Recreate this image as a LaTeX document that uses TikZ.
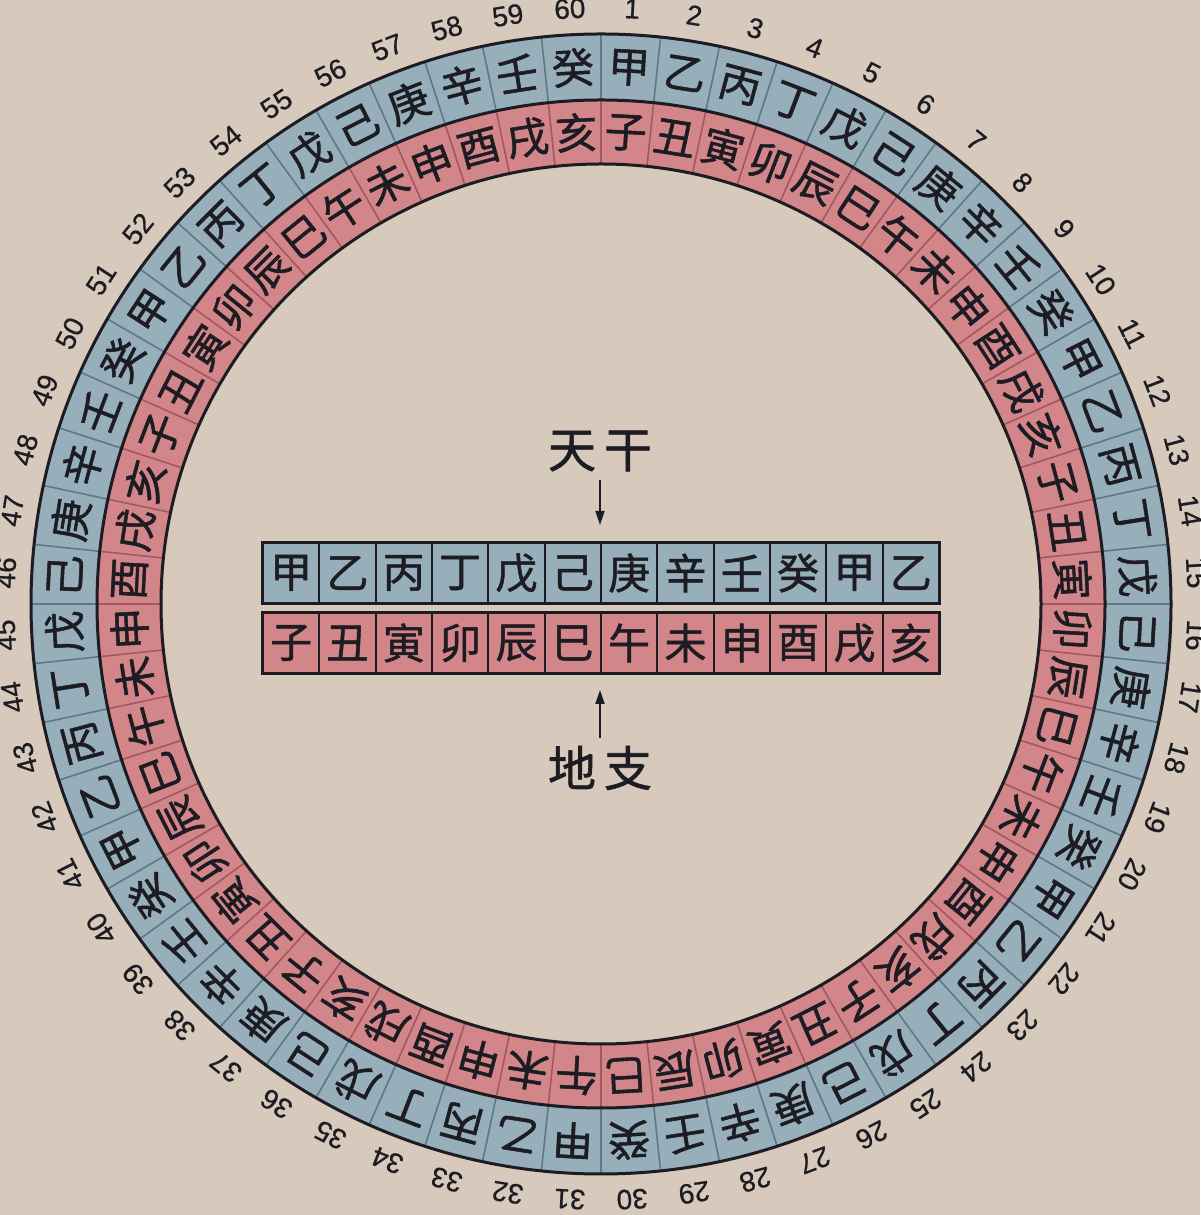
\documentclass[tikz,border=0pt]{standalone}
\usepackage{fontspec}
\setmainfont{Liberation Sans}
\newfontfamily\numfont[FakeBold=0.6]{Liberation Sans}
\newfontfamily\cjk[FakeBold=1.2]{Noto Sans CJK SC}
\usetikzlibrary{arrows.meta}
\definecolor{bg}{HTML}{D7C9BB}
\definecolor{ringblue}{HTML}{97AEBB}
\definecolor{ringred}{HTML}{D3868A}
\definecolor{ink}{HTML}{1C1C22}
\definecolor{bluediv}{HTML}{5E7886}
\definecolor{reddiv}{HTML}{A2585E}
\newcommand\stemname[1]{\ifcase#1 甲\or 乙\or 丙\or 丁\or 戊\or 己\or 庚\or 辛\or 壬\or 癸\fi}
\newcommand\branchname[1]{\ifcase#1 子\or 丑\or 寅\or 卯\or 辰\or 巳\or 午\or 未\or 申\or 酉\or 戌\or 亥\fi}
\tikzset{
  ringchar/.style={font=\cjk\fontsize{21}{21}\selectfont, text=ink, inner sep=0pt},
  numlabel/.style={font=\numfont\fontsize{14}{14}\selectfont, text=ink, inner sep=0pt},
  cellbox/.style={draw=ink, line width=1pt, minimum width=28.17pt, minimum height=30pt,
    inner sep=0pt, font=\cjk\fontsize{21}{21}\selectfont, text=ink},
  stemcell/.style={cellbox, fill=ringblue},
  branchcell/.style={cellbox, fill=ringred},
  title/.style={font=\cjk\fontsize{24}{24}\selectfont, text=ink, inner sep=0pt},
  arr/.style={-{Triangle[length=7pt,width=4.5pt]}, line width=0.9pt, draw=ink},
  ringline/.style={draw=ink, line width=1.5pt}
}
\begin{document}
\begin{tikzpicture}[x=0.5pt,y=0.5pt]
\useasboundingbox (0,0) rectangle (1200,1215);
\fill[bg] (0,0) rectangle (1200,1215);
% rings
\begin{scope}[shift={(601,611)}]
  \fill[ringblue, even odd rule] (0,0) circle (570) (0,0) circle (504);
  \fill[ringred, even odd rule] (0,0) circle (504) (0,0) circle (440);
  \foreach \k in {0,...,59} {
    \pgfmathsetmacro\da{90-\k*6}
    \draw[bluediv, line width=0.8pt] (\da:504) -- (\da:570);
    \draw[reddiv, line width=0.8pt] (\da:440) -- (\da:504);
  }
  \draw[ringline] (0,0) circle (570);
  \draw[ringline] (0,0) circle (504);
  \draw[ringline] (0,0) circle (440);
  \foreach \i in {1,...,60} {
    \pgfmathsetmacro\ang{90-(\i-0.5)*6}
    \pgfmathsetmacro\rot{-(\i-0.5)*6}
    \pgfmathtruncatemacro\s{mod(\i-1,10)}
    \pgfmathtruncatemacro\b{mod(\i-1,12)}
    \node[ringchar, rotate=\rot] (s\i) at (\ang:537) {\stemname{\s}};
    \node[ringchar, rotate=\rot] (b\i) at (\ang:472) {\branchname{\b}};
    \node[numlabel, rotate=\rot] (n\i) at (\ang:596) {\i};
  }
\end{scope}
% central strip
\foreach \j in {1,...,12} {
  \pgfmathsetmacro\cx{263+(\j-0.5)*56.33}
  \pgfmathtruncatemacro\s{mod(\j-1,10)}
  \pgfmathtruncatemacro\b{\j-1}
  \node[stemcell] (ts\j) at (\cx,642) {\stemname{\s}};
  \node[branchcell] (tb\j) at (\cx,572) {\branchname{\b}};
}
\draw[ink, line width=1.4pt] (ts1.north west) rectangle (ts12.south east);
\draw[ink, line width=1.4pt] (tb1.north west) rectangle (tb12.south east);
% labels
\node[title] (tg) at (600,764) {天\hspace{4pt}干};
\node[title] (dz) at (600,447) {地\hspace{4pt}支};
\coordinate (tgtip) at (600,690);
\coordinate (dztip) at (600,525);
\draw[arr, shorten <=4pt] (tg.south) -- (tgtip);
\draw[arr, shorten <=4pt] (dz.north) -- (dztip);
\end{tikzpicture}
\end{document}
